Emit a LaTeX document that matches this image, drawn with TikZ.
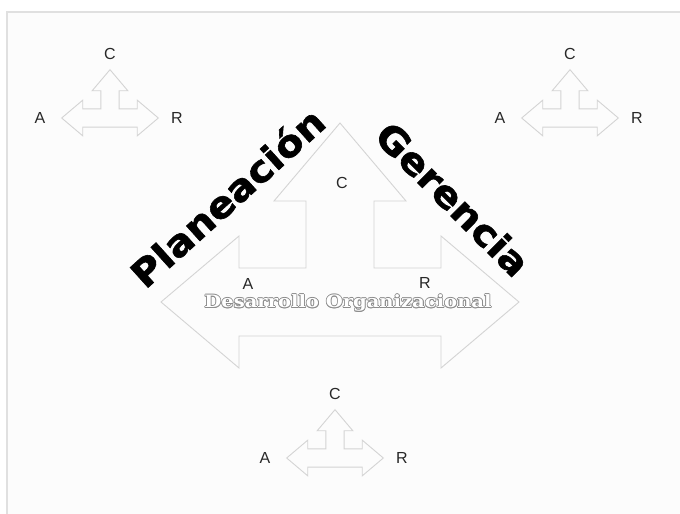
\documentclass[tikz,border=0pt]{standalone}
\usepackage{fontspec}
\setmainfont{Liberation Sans}
\newfontfamily\titlefont[FakeStretch=1.08, FakeBold=1.6]{DejaVu Sans}
\newfontfamily\banfont[FakeStretch=1.15]{DejaVu Serif}
\usetikzlibrary{calc}
\definecolor{framegray}{RGB}{224,224,224}
\definecolor{paper}{RGB}{252,252,252}
\definecolor{arrgray}{RGB}{212,212,212}
\definecolor{labgray}{RGB}{40,40,40}
\definecolor{bangray}{RGB}{140,140,140}
\tikzset{
  triout/.style={draw=arrgray, line width=0.9pt, line join=miter},
  lab/.style={font=\fontsize{16}{16}\selectfont, text=labgray, inner sep=0pt},
  ttl/.style={font=\titlefont\bfseries\fontsize{37}{37}\selectfont, inner sep=0pt},
  ban/.style={font=\banfont\bfseries\fontsize{17}{17}\selectfont, inner sep=0pt},
  pics/cara/.style={code={
    \draw[triout] (-179,0) -- (-101,-66) -- (-101,-34) -- (-34,-34) -- (-34,-101)
      -- (-66,-101) -- (0,-179) -- (66,-101) -- (34,-101) -- (34,-34) -- (101,-34)
      -- (101,-66) -- (179,0) -- (101,66) -- (101,34) -- (-101,34) -- (-101,66) -- cycle;
  }},
}
% small C-A-R arrow with its three letters
\newcommand{\triad}[3]{%
  \pic[scale=0.27] at (#2,#3) {cara};
  \node[lab] (#1-c) at (#2,#3-64) {C};
  \node[lab] (#1-a) at (#2-70,#3) {A};
  \node[lab] (#1-r) at (#2+67,#3) {R};}

\begin{document}
\begin{tikzpicture}[x=1pt, y=-1pt]
  \useasboundingbox (0,0) rectangle (680,514);
  \fill[paper] (7,12) rectangle (680,514);
  \draw[framegray, line width=1.5pt] (7,514) -- (7,12) -- (680,12);

  \triad{tl}{110}{118}
  \triad{tr}{570}{118}
  \triad{bt}{335}{458}

  % big arrow
  \pic at (340,302) {cara};
  \node[lab] (big-c) at (342,183) {C};
  \node[lab] (big-a) at (248,284) {A};
  \node[lab] (big-r) at (425,283) {R};

  \foreach \ang in {0,45,...,315}
    \node[ban, text=bangray] at ([shift={(\ang:0.8)}]348,303) {Desarrollo Organizacional};
  \node[ban, text=white] (dev) at (348,303) {Desarrollo Organizacional};

  \node[ttl, rotate=42] (plan) at (227,197) {Planeación};
  \node[ttl, rotate=-45] (ger) at (453,199) {Gerencia};
\end{tikzpicture}
\end{document}
